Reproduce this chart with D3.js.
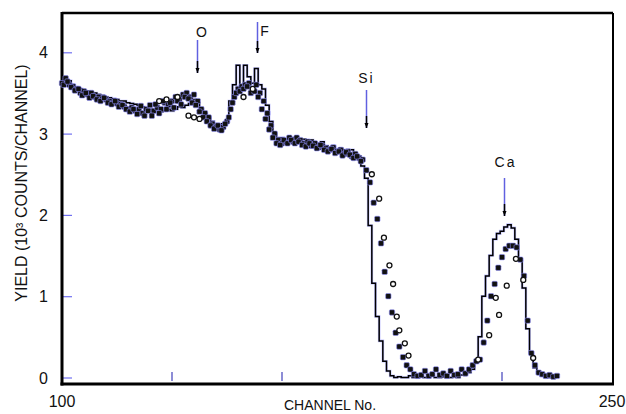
<!DOCTYPE html>
<html>
<head>
<meta charset="utf-8">
<script src="https://cdn.jsdelivr.net/npm/d3@7"></script>
<style>
  body { margin: 0; background: #fff; }
  svg text { font-family: "Liberation Sans", Arial, sans-serif; fill: #111; }
</style>
</head>
<body>
<svg width="626" height="414"></svg>
<script>
// simulated spectrum, one value per channel starting at channel 100
const lineStart = 100
const lineValues = [
  3.66, 3.62, 3.65, 3.6, 3.57, 3.55, 3.53, 3.52, 3.5, 3.5,
  3.48, 3.47, 3.45, 3.44, 3.43, 3.42, 3.4, 3.4, 3.38, 3.37,
  3.36, 3.35, 3.33, 3.3, 3.3, 3.28, 3.3, 3.27, 3.28, 3.3,
  3.28, 3.3, 3.33, 3.32, 3.35, 3.37, 3.42, 3.38, 3.3, 3.25,
  3.2, 3.15, 3.1, 3.1, 3.12, 3.15, 3.4, 3.6, 3.84, 3.55,
  3.84, 3.7, 3.62, 3.8, 3.6, 3.55, 3.35, 3.15, 3.0, 2.95,
  2.95, 2.92, 2.93, 2.95, 2.93, 2.92, 2.93, 2.9, 2.92, 2.88,
  2.87, 2.9, 2.85, 2.82, 2.85, 2.8, 2.82, 2.8, 2.78, 2.8,
  2.75, 2.72, 2.6, 2.45, 1.87, 1.16, 0.75, 0.45, 0.2, 0.08,
  0.02, 0, 0.01, 0, 0, 0.02, 0, 0, 0.01, 0,
  0, 0.02, 0, 0, 0.01, 0, 0, 0.02, 0, 0.03,
  0.03, 0.06, 0.1, 0.18, 0.5, 1.0, 1.25, 1.5, 1.7, 1.77,
  1.8, 1.85, 1.88, 1.84, 1.7, 1.45, 1.1, 0.6, 0.3, 0.12,
  0.05, 0.02, 0, 0, 0, 0
]

// measured data (filled markers), one per channel starting at channel 100
const pointStart = 100
const pointValues = [
  3.62, 3.68, 3.6, 3.58, 3.55, 3.5, 3.52, 3.48, 3.5, 3.45,
  3.45, 3.43, 3.42, 3.4, 3.38, 3.37, 3.36, 3.33, 3.3, 3.32,
  3.28, 3.3, 3.25, 3.3, 3.35, 3.28, 3.32, 3.3, 3.38, 3.35,
  3.4, 3.45, 3.42, 3.48, 3.5, 3.45, 3.48, 3.4, 3.3, 3.25,
  3.2, 3.12, 3.08, 3.05, 3.08, 3.15, 3.3, 3.45, 3.55, 3.58,
  3.6, 3.62, 3.55, 3.6, 3.5, 3.4, 3.25, 3.1, 3.0, 2.92,
  2.88, 2.9, 2.95, 2.9, 2.95, 2.92, 2.88, 2.9, 2.85, 2.88,
  2.83, 2.85, 2.82, 2.8, 2.83, 2.78, 2.8, 2.75, 2.78, 2.72,
  2.75, 2.7, 2.68, 2.55, 2.4, 2.15, 1.95, 1.65, 1.3, 1.0,
  0.8, 0.55, 0.38, 0.25, 0.15, 0.1, 0.04, 0.02, 0.03, 0.08,
  0.02, 0.04, 0.1, 0.03, 0.05, 0.02, 0.08, 0.03, 0.04, 0.1,
  0.05, 0.1, 0.15, 0.2, 0.22, 0.43, 0.7, 1.0, 1.15, 1.35,
  1.48, 1.58, 1.62, 1.62, 1.6, 1.45, 1.25, 0.7, 0.3, 0.15,
  0.06, 0.04, 0.02, 0.03, 0.01, 0.02
]

// extra filled markers between channels on the plateau, starting at channel 100.5
const pointStartHalf = 100.5
const pointValuesHalf = [
  3.6, 3.64, 3.57, 3.53, 3.55, 3.47, 3.5, 3.44, 3.46, 3.42,
  3.4, 3.44, 3.38, 3.36, 3.4, 3.33, 3.35, 3.3, 3.27, 3.3,
  3.24, 3.34, 3.22, 3.28, 3.22, 3.36, 3.25, 3.4, 3.3, 3.38,
  3.32, 3.4, 3.36, 3.45, 3.43, 3.38, 3.35, 3.27, 3.2, 3.15,
  3.1, 3.06, 3.1, 3.04, 3.12, 3.2, 3.38, 3.5, 3.52, 3.55,
  3.58, 3.5, 3.52, 3.45, 3.3, 3.18, 3.05, 2.95, 2.88, 2.86,
  2.92, 2.88, 2.92, 2.88, 2.9, 2.86, 2.84, 2.88, 2.85, 2.82,
  2.86, 2.8, 2.78, 2.81, 2.76, 2.78, 2.73, 2.77, 2.74, 2.7,
  2.72, 2.66
]

// second measurement (open markers): [channel, value]
const openPoints = [
  [126.5, 3.4], [128.5, 3.42], [131.5, 3.45], [134.5, 3.22], [136, 3.2], [137.5, 3.18],
  [149.5, 3.45], [152, 3.55],
  [184.5, 2.5], [186.5, 2.2], [187.8, 1.72], [189.3, 1.38], [190.3, 1.15],
  [191.3, 0.75], [192, 0.58], [193.5, 0.42], [194.5, 0.27],
  [213.5, 0.22], [216.5, 0.52], [218.3, 0.98], [219.2, 0.77], [221.3, 1.13],
  [223.8, 1.46], [225.8, 1.2], [228.5, 0.24]
]

const elements = ['O', 'F', 'Si', 'Ca']
const elementChannels = [136.7, 153.1, 183, 220.5]
const yTicks = [0, 1, 2, 3, 4]
const xMinorTicks = [130, 160, 220]

const svg = d3.select('svg')
const plotLeft = 62, plotRight = 613, plotTop = 13, plotBottom = 384

const x = d3.scaleLinear().domain([100, 250]).range([plotLeft, 612])
const y = d3.scaleLinear().domain([0, 4]).range([377.5, 52.3])

const lineData = lineValues.map((v, i) => [lineStart + i, v])
const pointData = pointValues.map((v, i) => [pointStart + i, v])
  .concat(pointValuesHalf.map((v, i) => [pointStartHalf + i, v]))

// frame
const frame = svg.append('g').attr('fill', 'none').attr('stroke', '#000')
frame.append('line').attr('x1', plotLeft).attr('x2', plotRight).attr('y1', plotTop).attr('y2', plotTop).attr('stroke-width', 2.5)
frame.append('line').attr('x1', plotRight).attr('x2', plotRight).attr('y1', plotTop).attr('y2', plotBottom).attr('stroke-width', 2)

// y axis with inward ticks
const yAxis = svg.append('g')
  .attr('transform', 'translate(' + plotLeft + ',0)')
  .call(d3.axisLeft(y).tickValues(yTicks).tickSizeInner(-10).tickSizeOuter(0).tickPadding(14).tickFormat(d3.format('d')))
yAxis.select('.domain').remove()
yAxis.selectAll('.tick line').attr('stroke', '#7070f0').attr('stroke-width', 1.2)
yAxis.selectAll('.tick text').attr('font-size', 16).attr('font-family', '"Liberation Sans", Arial, sans-serif').attr('dy', '0.35em')

// x minor ticks
svg.append('g').selectAll('line')
  .data(xMinorTicks)
  .enter()
  .append('line')
  .attr('x1', d => x(d)).attr('x2', d => x(d))
  .attr('y1', 372).attr('y2', 381)
  .attr('stroke', '#5050c0').attr('stroke-width', 1.3)

// axis lines
svg.append('line').attr('x1', plotLeft).attr('x2', plotLeft).attr('y1', plotTop - 1).attr('y2', plotBottom + 1.5).attr('stroke', '#000').attr('stroke-width', 3)
svg.append('line').attr('x1', plotLeft - 1.5).attr('x2', plotRight + 1).attr('y1', plotBottom).attr('y2', plotBottom).attr('stroke', '#000').attr('stroke-width', 3)

// x end labels
svg.append('text').attr('x', x(100)).attr('y', 407).attr('text-anchor', 'middle').attr('font-size', 16).text('100')
svg.append('text').attr('x', x(250)).attr('y', 407).attr('text-anchor', 'middle').attr('font-size', 16).text('250')
svg.append('text').attr('x', 330).attr('y', 410).attr('text-anchor', 'middle').attr('font-size', 14).text('CHANNEL No.')

// y label
svg.append('text')
  .attr('transform', 'translate(27,183) rotate(-90)')
  .attr('text-anchor', 'middle')
  .attr('font-size', 16)
  .text('YIELD (10³ COUNTS/CHANNEL)')

// step line
const stepLine = d3.line().x(d => x(d[0])).y(d => y(d[1])).curve(d3.curveStep)
svg.append('path').datum(lineData).attr('d', stepLine)
  .attr('fill', 'none').attr('stroke', '#8c8cff').attr('stroke-width', 2.6).attr('opacity', 0.5)
svg.append('path').datum(lineData).attr('d', stepLine)
  .attr('fill', 'none').attr('stroke', '#000').attr('stroke-width', 1.5)

// filled markers
svg.append('g').selectAll('rect')
  .data(pointData)
  .enter()
  .append('rect')
  .attr('x', d => x(d[0]) - 2.7)
  .attr('y', d => y(d[1]) - 2.7)
  .attr('width', 5.4).attr('height', 5.4).attr('rx', 1.2)
  .attr('fill', '#111').attr('stroke', '#9090ff').attr('stroke-width', 0.6)

// open markers
svg.append('g').selectAll('circle')
  .data(openPoints)
  .enter()
  .append('circle')
  .attr('cx', d => x(d[0]))
  .attr('cy', d => y(d[1]))
  .attr('r', 2.5)
  .attr('fill', '#fff').attr('stroke', '#111').attr('stroke-width', 1.3)

// element arrows
const arrowTop = [40, 22, 90, 178]
const arrowBottom = [73, 53, 128, 216]
const labelY = [37, 36, 83, 167]
const labelDx = [5, 8, 0, 1]
const ann = svg.append('g')
elements.forEach((el, i) => {
  const ax = Math.round(x(elementChannels[i])) + 0.5
  ann.append('line').attr('x1', ax).attr('x2', ax).attr('y1', arrowTop[i]).attr('y2', arrowBottom[i])
    .attr('stroke', '#6060e0').attr('stroke-width', 1.5)
  ann.append('line').attr('x1', ax).attr('x2', ax).attr('y1', arrowBottom[i] - 12).attr('y2', arrowBottom[i])
    .attr('stroke', '#000').attr('stroke-width', 1.5)
  ann.append('path')
    .attr('d', 'M' + (ax - 2) + ',' + (arrowBottom[i] - 5) + 'L' + (ax + 2) + ',' + (arrowBottom[i] - 5) + 'L' + ax + ',' + arrowBottom[i] + 'Z')
    .attr('fill', '#000')
  ann.append('text')
    .attr('x', ax + labelDx[i]).attr('y', labelY[i])
    .attr('text-anchor', 'middle').attr('font-size', 14).attr('letter-spacing', 2)
    .text(el)
})
</script>
</body>
</html>
